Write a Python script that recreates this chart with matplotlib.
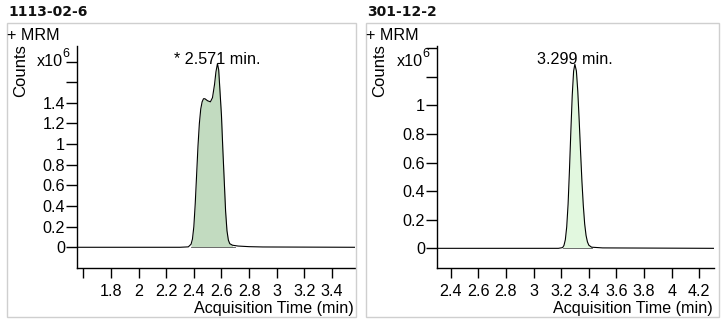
import matplotlib
matplotlib.use("Agg")
import matplotlib.pyplot as plt
from matplotlib.patches import Rectangle

plt.rcParams["font.family"] = ["Liberation Sans", "DejaVu Sans"]

# ─── chromatogram traces (time in min, counts in x10^6) ──────────────────────

titles = ["1113-02-6", "301-12-2"]
peak_labels = ["* 2.571 min.", "3.299 min."]
peak_times = [2.571, 3.299]
peak_heights = [1.78, 1.287]

time_a = [1.554, 2.30, 2.36, 2.38, 2.39, 2.40, 2.41, 2.42, 2.43, 2.44, 2.45,
          2.46, 2.47, 2.48, 2.50, 2.52, 2.535, 2.55, 2.56, 2.571, 2.58, 2.59,
          2.60, 2.61, 2.62, 2.63, 2.64, 2.65, 2.66, 2.68, 2.72, 2.80, 2.90, 3.567]
counts_a = [0.0, 0.0, 0.004, 0.03, 0.08, 0.20, 0.42, 0.70, 0.98, 1.20, 1.34,
            1.41, 1.44, 1.44, 1.42, 1.41, 1.45, 1.58, 1.70, 1.78, 1.72, 1.50,
            1.28, 0.95, 0.65, 0.35, 0.16, 0.07, 0.035, 0.02, 0.012, 0.006, 0.003, 0.0]

time_b = [2.299, 3.18, 3.21, 3.22, 3.23, 3.24, 3.25, 3.26, 3.27, 3.28, 3.29,
          3.299, 3.31, 3.32, 3.33, 3.34, 3.35, 3.36, 3.37, 3.38, 3.39, 3.40,
          3.42, 3.50, 4.306]
counts_b = [0.0, 0.0, 0.005, 0.02, 0.06, 0.15, 0.31, 0.55, 0.82, 1.07, 1.24,
            1.287, 1.24, 1.10, 0.90, 0.68, 0.47, 0.30, 0.17, 0.09, 0.045, 0.022,
            0.008, 0.003, 0.0]

# integration window of each peak
integ_a = (2.38, 2.70)
integ_b = (3.21, 3.42)

xlims = [(1.554, 3.567), (2.299, 4.306)]
ylims = [(-0.196, 1.956), (-0.134, 1.418)]
xticks = [[1.6, 1.8, 2.0, 2.2, 2.4, 2.6, 2.8, 3.0, 3.2, 3.4],
          [2.4, 2.6, 2.8, 3.0, 3.2, 3.4, 3.6, 3.8, 4.0, 4.2]]
xticklabels = [["", "1.8", "2", "2.2", "2.4", "2.6", "2.8", "3", "3.2", "3.4"],
               ["2.4", "2.6", "2.8", "3", "3.2", "3.4", "3.6", "3.8", "4", "4.2"]]
yticks = [[0, 0.2, 0.4, 0.6, 0.8, 1.0, 1.2, 1.4, 1.6, 1.8],
          [0, 0.2, 0.4, 0.6, 0.8, 1.0, 1.2, 1.4]]
yticklabels = [["0", "0.2", "0.4", "0.6", "0.8", "1", "1.2", "1.4", "", ""],
               ["0", "0.2", "0.4", "0.6", "0.8", "1", "", ""]]
fills = ["#c2dbc0", "#e2f8df"]

W, H = 721, 323
FS = 11.6
fig = plt.figure(figsize=(W / 100, H / 100), dpi=100)


def fx(px):
    return px / W


def fy(py):
    return 1 - py / H


panels = [
    dict(box=(6.7, 356.2), ax=(77, 355), t=time_a, c=counts_a, win=integ_a),
    dict(box=(365.7, 718.5), ax=(436.7, 714), t=time_b, c=counts_b, win=integ_b),
]

for i, p in enumerate(panels):
    bx0, bx1 = p["box"]
    fig.patches.append(Rectangle((fx(bx0), fy(316.7)), fx(bx1 - bx0), (316.7 - 22.7) / H,
                                 transform=fig.transFigure, fill=False,
                                 edgecolor="#cfcfcf", lw=1.0))
    fig.text(fx(bx0 + 1.5), fy(12), titles[i], fontsize=10, fontweight="bold",
             family="DejaVu Sans", va="center", ha="left", color="#111111")
    fig.text(fx(bx0 + 0.5), fy(35), "+ MRM", fontsize=FS, va="center", ha="left")
    fig.text(fx(bx0 + 14), fy(71), "Counts", fontsize=12, rotation=90,
             va="center", ha="center")

    ax0, ax1 = p["ax"]
    ax = fig.add_axes([fx(ax0), fy(267.5), fx(ax1 - ax0), (267.5 - 45.5) / H])
    t, c = p["t"], p["c"]
    lo, hi = p["win"]
    sel_t = [x for x in t if lo <= x <= hi]
    sel_c = [y for x, y in zip(t, c) if lo <= x <= hi]
    ax.fill_between(sel_t, sel_c, 0.004, color=fills[i], lw=0)
    ax.plot([lo, hi], [0.004, 0.004], color="#555555", lw=0.6)
    ax.plot(t, c, color="black", lw=0.8)

    ax.annotate(peak_labels[i], xy=(peak_times[i], peak_heights[i]),
                xytext=(0, 0), textcoords="offset points",
                ha="center", va="baseline", fontsize=FS)

    ax.set_xlim(*xlims[i])
    ax.set_ylim(*ylims[i])
    ax.set_xticks(xticks[i])
    ax.set_xticklabels(xticklabels[i])
    ax.set_yticks(yticks[i])
    ax.set_yticklabels(yticklabels[i])
    ax.tick_params(axis="y", length=8, width=1, pad=0.5, labelsize=FS)
    ax.tick_params(axis="x", length=7, width=1, pad=5, labelsize=FS)
    for side in ("top", "right"):
        ax.spines[side].set_visible(False)
    for side in ("left", "bottom"):
        ax.spines[side].set_linewidth(1.0)

    fig.text(fx(ax1 - 1), fy(308), "Acquisition Time (min)", fontsize=FS,
             ha="right", va="center")

    # exponent marker beside the y axis
    fig.text(fx(ax0 - 14), fy(61), "x10", fontsize=FS, ha="right", va="center")
    fig.text(fx(ax0 - 14.5), fy(54), "6", fontsize=9, ha="left", va="center")

fig.savefig("out.png", dpi=100)
